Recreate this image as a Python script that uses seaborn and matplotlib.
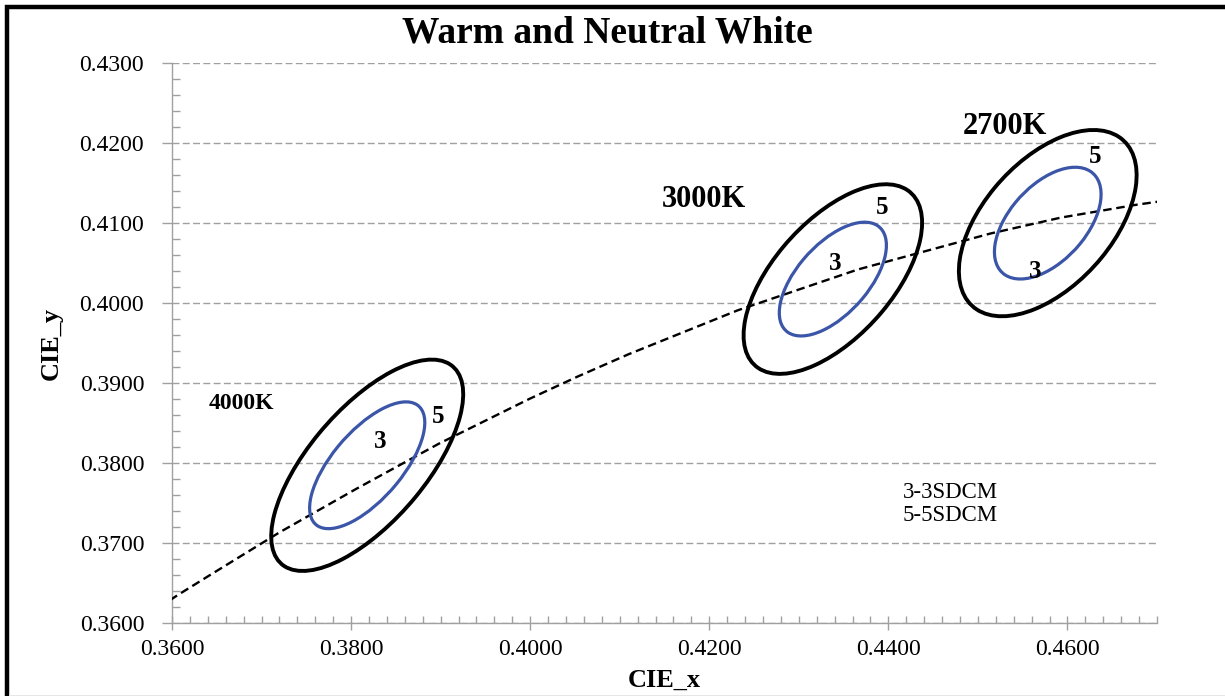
import matplotlib
matplotlib.use("Agg")
import matplotlib.pyplot as plt
from matplotlib.patches import Ellipse, Rectangle
from matplotlib.ticker import MultipleLocator, FormatStrFormatter
import seaborn as sns
import pandas as pd

# ---- data ----
cct_labels = ["2700K", "3000K", "4000K"]
center_x = [0.4578, 0.4338, 0.3818]
center_y = [0.4100, 0.4030, 0.3797]
axis_a_1step = [0.00268, 0.00278, 0.00313]   # semi-major (1-step)
axis_b_1step = [0.00148, 0.00137, 0.00134]   # semi-minor
angle_deg = [53.70, 53.22, 53.72]
steps = [3, 5]

# Planckian locus points (CIE x, y)
locus_x = [0.3573, 0.3607, 0.3643, 0.3720, 0.3805, 0.3898, 0.3999, 0.4053,
           0.4110, 0.4232, 0.4366, 0.4514, 0.4593, 0.4677, 0.4765]
locus_y = [0.3610, 0.3635, 0.3660, 0.3713, 0.3767, 0.3824, 0.3880, 0.3908,
           0.3936, 0.3991, 0.4042, 0.4087, 0.4107, 0.4123, 0.4137]

# label positions
cct_label_x = [0.4530, 0.4194, 0.3677]
cct_label_y = [0.4221, 0.4130, 0.3874]
cct_label_size = [22, 22, 17]
five_x = [0.4631, 0.4393, 0.3897]
five_y = [0.4183, 0.4119, 0.3858]
three_x = [0.4564, 0.4341, 0.3833]
three_y = [0.4039, 0.4049, 0.3827]
legend_lines = ["3-3SDCM", "5-5SDCM"]

# ---- style ----
sns.set_theme(style="white")
plt.rcParams['font.family'] = ['Liberation Serif', 'DejaVu Serif']
plt.rcParams['text.color'] = 'black'
plt.rcParams['axes.labelcolor'] = 'black'
plt.rcParams['xtick.labelcolor'] = 'black'
plt.rcParams['ytick.labelcolor'] = 'black'

fig = plt.figure(figsize=(12.25, 6.96), dpi=100)
ax = fig.add_axes([172/1225, 1 - 622.7/696, (1157-172)/1225, (622.7-63.3)/696])

blue = "#3b55a8"
gray = "#a0a0a0"

# Planckian locus
df = pd.DataFrame({"x": locus_x, "y": locus_y})
sns.lineplot(data=df, x="x", y="y", ax=ax, color="black", lw=1.7,
             linestyle=(0, (3.6, 2.0)), sort=False, estimator=None, zorder=3)

# MacAdam ellipses
for cx, cy, a, b, th in zip(center_x, center_y, axis_a_1step, axis_b_1step, angle_deg):
    for s in steps:
        col = blue if s == 3 else "black"
        lw = 2.3 if s == 3 else 2.8
        e = Ellipse((cx, cy), width=2 * a * s, height=2 * b * s, angle=th,
                    fill=False, edgecolor=col, lw=lw, zorder=4)
        ax.add_patch(e)

# labels
for lab, lx, ly, fs in zip(cct_labels, cct_label_x, cct_label_y, cct_label_size):
    ax.text(lx, ly, lab, ha="center", va="center", fontsize=fs, fontweight="bold", zorder=5)
for fx, fy in zip(five_x, five_y):
    ax.text(fx, fy, "5", ha="center", va="center", fontsize=18, fontweight="bold", zorder=5)
for tx, ty in zip(three_x, three_y):
    ax.text(tx, ty, "3", ha="center", va="center", fontsize=18, fontweight="bold", zorder=5)
ax.text(0.4469, 0.3763, legend_lines[0], ha="center", va="center", fontsize=16.5)
ax.text(0.4469, 0.3734, legend_lines[1], ha="center", va="center", fontsize=16.5)

# axes
ax.set_xlim(0.36, 0.47)
ax.set_ylim(0.36, 0.43)
ax.xaxis.set_major_locator(MultipleLocator(0.02))
ax.xaxis.set_minor_locator(MultipleLocator(0.002))
ax.yaxis.set_major_locator(MultipleLocator(0.01))
ax.yaxis.set_minor_locator(MultipleLocator(0.002))
ax.xaxis.set_major_formatter(FormatStrFormatter("%.4f"))
ax.yaxis.set_major_formatter(FormatStrFormatter("%.4f"))

for sp in ["top", "right"]:
    ax.spines[sp].set_visible(False)
for sp in ["left", "bottom"]:
    ax.spines[sp].set_color(gray)
    ax.spines[sp].set_linewidth(1.0)

ax.tick_params(axis="x", which="major", direction="inout", length=10, width=1,
               color=gray, labelsize=17, pad=7, bottom=True)
ax.tick_params(axis="x", which="minor", direction="in", length=5, width=1,
               color=gray, bottom=True)
ax.tick_params(axis="y", which="major", direction="out", length=7, width=1,
               color=gray, labelsize=17, pad=13, left=True)
ax.tick_params(axis="y", which="minor", direction="in", length=6, width=1,
               color=gray, left=True)

ax.yaxis.grid(True, which="major", color=gray, linestyle=(0, (5, 2.4)), lw=1.0)
ax.xaxis.grid(False)
ax.set_axisbelow(True)

ax.set_xlabel("CIE_x", fontsize=19, fontweight="bold", labelpad=6)
ax.set_ylabel("CIE_y", fontsize=19, fontweight="bold", labelpad=12)

fig.text(607/1225, 1 - 33/696, "Warm and Neutral White", ha="center", va="center",
         fontsize=27, fontweight="bold")

# outer frame
fig.add_artist(Rectangle((7/1225, -0.05), 1.2, 1 - 7/696 + 0.05, transform=fig.transFigure,
                         fill=False, edgecolor="black", lw=3.2))
fig.add_artist(Rectangle((9/1225, 0.0), 1.0, 1.5/696, transform=fig.transFigure,
                         fill=True, facecolor="#e6e6e6", edgecolor="none"))

fig.savefig("out.png", dpi=100, facecolor="white")
